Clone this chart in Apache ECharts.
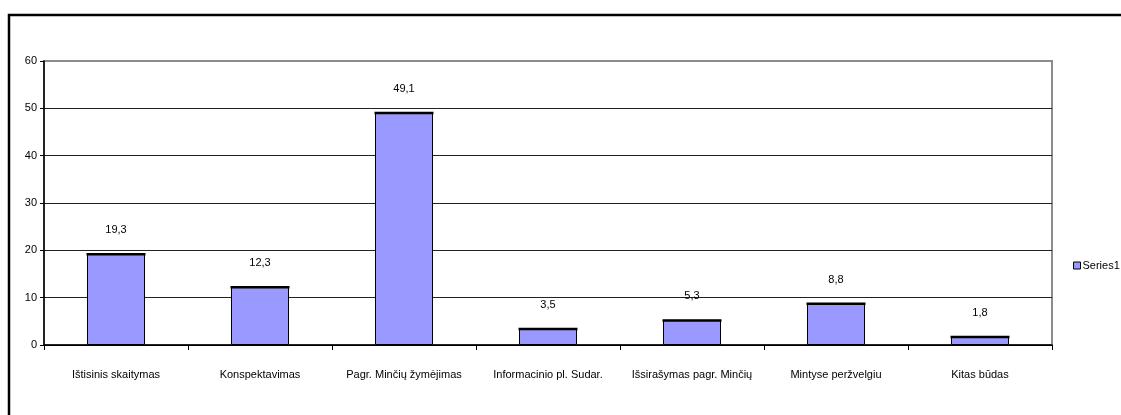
<!DOCTYPE html>
<html>
<head>
<meta charset="utf-8">
<script src="https://cdn.jsdelivr.net/npm/echarts@6/dist/echarts.min.js"></script>
<style>
  html, body { margin: 0; padding: 0; background: #fff; }
  #chart { width: 1121px; height: 415px; }
</style>
</head>
<body>
<div id="chart"></div>
<script>
// Reading habits survey: share of answers per method
const categories = [
  'Ištisinis skaitymas',
  'Konspektavimas',
  'Pagr. Minčių žymėjimas',
  'Informacinio pl. Sudar.',
  'Išsirašymas pagr. Minčių',
  'Mintyse peržvelgiu',
  'Kitas būdas'
];
const series1 = [19.3, 12.3, 49.1, 3.5, 5.3, 8.8, 1.8];
const yTicks = [0, 10, 20, 30, 40, 50, 60];

const FONT = '"Liberation Sans Narrow", "Arial Narrow", "Liberation Sans", Arial, sans-serif';
const FS = 11;
const BAR_W = 58;
const comma = v => String(v).replace('.', ',');

const chart = echarts.init(document.getElementById('chart'), null, { renderer: 'canvas' });

chart.setOption({
  animation: false,
  backgroundColor: '#ffffff',
  textStyle: { fontFamily: FONT, color: '#000' },
  graphic: [{
    type: 'rect',
    z: 100,
    shape: { x: 9, y: 15, width: 1200, height: 500 },
    style: { fill: 'none', stroke: '#000', lineWidth: 2.5 },
    silent: true
  }],
  grid: {
    left: 44, right: 69, top: 61, bottom: 70,
    show: true,
    backgroundColor: '#ffffff',
    borderColor: '#8c8c8c',
    borderWidth: 2
  },
  legend: {
    left: 1068, top: 255,
    orient: 'vertical',
    itemWidth: 7, itemHeight: 7,
    itemGap: 4,
    icon: 'rect',
    data: [{ name: 'Series1', itemStyle: { color: '#9999ff', borderColor: '#000', borderWidth: 1 } }],
    textStyle: { fontFamily: FONT, fontSize: FS, color: '#000', padding: [0, 0, 0, -3] }
  },
  xAxis: {
    type: 'category',
    data: categories,
    axisLine: { lineStyle: { color: '#000', width: 1.5 } },
    axisTick: { show: true, alignWithLabel: false, length: 5, inside: false, lineStyle: { color: '#000' } },
    axisLabel: { fontFamily: FONT, fontSize: FS, color: '#000', margin: 24, interval: 0 },
    splitLine: { show: false }
  },
  yAxis: {
    type: 'value',
    min: 0, max: 60, interval: 10,
    axisLine: { show: true, lineStyle: { color: '#000', width: 1.5 } },
    axisTick: { show: true, length: 4, lineStyle: { color: '#000' } },
    axisLabel: {
      fontFamily: FONT, fontSize: FS, color: '#000', margin: 7,
      formatter: v => (yTicks.includes(v) ? String(v) : '')
    },
    splitLine: {
      show: true,
      lineStyle: { color: ['#000', '#222', '#222', '#222', '#222', '#222', 'rgba(0,0,0,0)'], width: 1 }
    }
  },
  series: [
    {
      name: 'Series1',
      type: 'bar',
      data: series1,
      barWidth: BAR_W,
      itemStyle: { color: '#9999ff', borderColor: '#000', borderWidth: 1 },
      label: {
        show: true,
        position: 'top',
        distance: 18,
        fontFamily: FONT,
        fontSize: FS,
        color: '#000',
        formatter: p => comma(p.value)
      },
      z: 2
    },
    {
      // darker rim along each bar's top edge
      name: 'rim',
      type: 'scatter',
      data: series1,
      symbol: 'rect',
      symbolSize: [BAR_W + 1, 2.5],
      symbolOffset: [0, 0.5],
      itemStyle: { color: '#000', opacity: 1 },
      silent: true,
      z: 3
    }
  ]
});
</script>
</body>
</html>
